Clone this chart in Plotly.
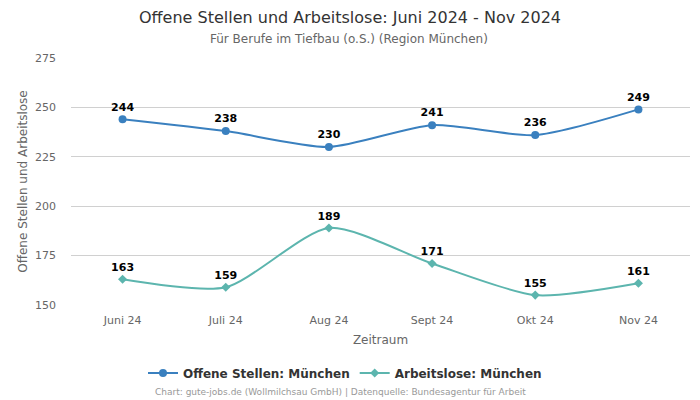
import plotly.graph_objects as go

categories = ["Juni 24", "Juli 24", "Aug 24", "Sept 24", "Okt 24", "Nov 24"]
offene_stellen = [244, 238, 230, 241, 236, 249]
arbeitslose = [163, 159, 189, 171, 155, 161]
y_ticks = [150, 175, 200, 225, 250, 275]

FONT = "DejaVu Sans"
blue = "#3a80bf"
teal = "#5cb5ae"

L, R, T, B = 71, 10, 58, 95
W, H = 700, 400
plot_w = W - L - R
plot_h = H - T - B

def px_x(pix):
    return (pix - L) / plot_w

def px_y(pix):
    return (H - B - pix) / plot_h

fig = go.Figure()
fig.add_trace(go.Scatter(
    x=categories, y=offene_stellen, name="Offene Stellen: München",
    mode="lines+markers+text", line=dict(color=blue, width=2, shape="spline", smoothing=0.7),
    marker=dict(symbol="circle", size=8, color=blue),
    text=[str(v) for v in offene_stellen], textposition="top center",
    textfont=dict(family=FONT, size=11, color="#000000", weight="bold"),
    cliponaxis=False,
))
fig.add_trace(go.Scatter(
    x=categories, y=arbeitslose, name="Arbeitslose: München",
    mode="lines+markers+text", line=dict(color=teal, width=2, shape="spline", smoothing=0.7),
    marker=dict(symbol="diamond", size=7, color=teal),
    text=[str(v) for v in arbeitslose], textposition="top center",
    textfont=dict(family=FONT, size=11, color="#000000", weight="bold"),
    cliponaxis=False,
))

fig.update_layout(
    width=W, height=H,
    margin=dict(l=L, r=R, t=T, b=B, autoexpand=False),
    paper_bgcolor="white", plot_bgcolor="white",
    font=dict(family=FONT, color="#666666", size=11),
    showlegend=True,
    legend=dict(orientation="h", x=px_x(345), xanchor="center", y=px_y(373), yanchor="middle",
                font=dict(family=FONT, size=12, color="#333333", weight="bold"),
                itemwidth=30, tracegroupgap=0),
    xaxis=dict(type="category", range=[-0.5, 5.5], showgrid=False, zeroline=False,
               showline=False, ticks="", automargin=False, ticklabelstandoff=7,
               tickfont=dict(size=11, color="#666666"),
               title=dict(text="Zeitraum", font=dict(size=12, color="#666666"), standoff=9)),
    yaxis=dict(range=[150, 275], tickvals=y_ticks, showgrid=True, gridcolor="#d0d0d0",
               gridwidth=1, zeroline=False, showline=False, ticks="", automargin=False,
               ticklabelstandoff=14,
               tickfont=dict(size=11, color="#666666"),
               title=dict(text="Offene Stellen und Arbeitslose", font=dict(size=12, color="#666666"), standoff=4)),
)

fig.add_annotation(text="Offene Stellen und Arbeitslose: Juni 2024 - Nov 2024",
                   xref="paper", yref="paper", x=px_x(350), y=px_y(17), xanchor="center", yanchor="middle",
                   showarrow=False, font=dict(family=FONT, size=16, color="#333333"))
fig.add_annotation(text="Für Berufe im Tiefbau (o.S.) (Region München)",
                   xref="paper", yref="paper", x=px_x(349), y=px_y(39), xanchor="center", yanchor="middle",
                   showarrow=False, font=dict(family=FONT, size=12, color="#666666"))
fig.add_annotation(text="Chart: gute-jobs.de (Wollmilchsau GmbH) | Datenquelle: Bundesagentur für Arbeit",
                   xref="paper", yref="paper", x=px_x(340), y=px_y(392), xanchor="center", yanchor="middle",
                   showarrow=False, font=dict(family=FONT, size=9, color="#999999"))

fig.write_html("out.html", config={"displayModeBar": False},
               post_script="document.body.style.margin='0px';document.body.style.overflow='hidden';")
